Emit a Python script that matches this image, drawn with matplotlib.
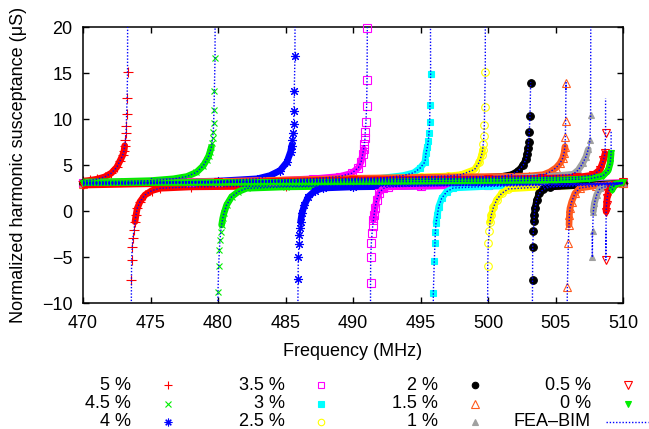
import numpy as np
import matplotlib
matplotlib.use('Agg')
import matplotlib.pyplot as plt
from matplotlib.lines import Line2D

plt.rcParams['font.family'] = ['Liberation Sans', 'DejaVu Sans']

nan = float('nan')

# 各曲线数据 (频率 MHz, 归一化谐波电纳 uS)，nan 分隔谐振点两侧
f_5 = [470.0, 470.5, 471.0, 471.6, 472.1, 472.5, 472.74, 472.94, 473.04, 473.09, 473.14, 473.19, 473.21, 473.23, 473.27, 473.30, nan,
       473.59, 473.60, 473.65, 473.70, 473.78, 473.85, 473.93, 474.02, 474.22, 474.59, 475.09, 475.70, 478.0, 485.0, 495.0, 505.0, 510.0]
b_5 = [3.25, 3.33, 3.45, 3.70, 4.12, 4.75, 5.45, 6.05, 6.55, 7.10, 7.70, 8.44, 9.27, 10.50, 12.32, 15.14, nan,
       -7.50, -5.33, -3.88, -2.90, -2.07, -1.16, -0.43, 0.29, 1.00, 1.74, 2.21, 2.47, 2.62, 2.72, 2.82, 2.92, 3.05]

f_45 = [470.0, 473.0, 475.0, 476.7, 477.7, 478.4, 478.9, 479.16, 479.31, 479.41, 479.51, 479.56, 479.60, 479.65, 479.68, 479.70, 479.73, 479.78, nan,
        480.00, 480.05, 480.10, 480.15, 480.20, 480.27, 480.35, 480.44, 480.64, 481.01, 481.50, 482.12, 485.0, 492.0, 500.0, 510.0]
b_45 = [3.15, 3.22, 3.30, 3.50, 3.75, 4.20, 4.90, 5.55, 5.98, 6.45, 6.96, 7.42, 7.97, 8.62, 9.53, 10.98, 13.04, 16.60, nan,
        -8.77, -6.00, -4.24, -3.15, -2.25, -1.52, -0.80, -0.25, 0.65, 1.55, 2.10, 2.47, 2.62, 2.75, 2.85, 3.02]

f_4 = [470.0, 475.0, 480.0, 482.9, 483.85, 484.6, 485.1, 485.38, 485.46, 485.51, 485.56, 485.60, 485.63, 485.65, 485.70, nan,
       485.93, 485.95, 486.00, 486.02, 486.07, 486.12, 486.22, 486.40, 486.69, 487.19, 487.80, 490.0, 497.0, 504.0, 510.0]
b_4 = [3.05, 3.12, 3.25, 3.50, 3.85, 4.40, 5.30, 6.45, 7.10, 7.72, 8.51, 9.46, 10.87, 13.04, 16.85, nan,
       -7.43, -5.04, -3.62, -2.61, -1.88, -1.16, -0.25, 0.65, 1.55, 2.21, 2.50, 2.62, 2.75, 2.85, 3.00]

f_35 = [470.0, 478.0, 484.0, 487.0, 489.0, 489.9, 490.4, 490.6, 490.72, 490.79, 490.84, 490.89, 490.91, 490.96, 491.01, 491.04, 491.06, nan,
        491.30, 491.31, 491.36, 491.41, 491.46, 491.51, 491.56, 491.63, 491.75, 491.95, 492.25, 492.62, 495.0, 500.0, 505.0, 510.0]
b_35 = [3.05, 3.15, 3.30, 3.50, 3.75, 4.10, 4.70, 5.35, 6.20, 6.74, 7.28, 7.90, 8.62, 9.71, 11.41, 14.24, 19.86, nan,
        -7.86, -5.04, -3.44, -2.43, -1.63, -0.98, -0.43, 0.29, 1.20, 2.00, 2.45, 2.62, 2.72, 2.80, 2.88, 3.08]

f_3 = [470.0, 480.0, 488.0, 492.0, 493.7, 494.5, 494.96, 495.33, 495.41, 495.51, 495.58, 495.63, 495.68, 495.70, 495.75, nan,
       495.95, 496.02, 496.07, 496.10, 496.15, 496.25, 496.35, 496.57, 496.94, 497.43, 500.0, 505.0, 510.0]
b_3 = [3.02, 3.15, 3.30, 3.55, 3.85, 4.15, 4.65, 5.33, 6.30, 6.99, 7.64, 8.51, 9.64, 11.52, 14.89, nan,
       -8.95, -5.43, -3.51, -2.25, -1.27, -0.43, 0.47, 1.38, 2.10, 2.50, 2.68, 2.82, 3.00]

f_25 = [470.0, 480.0, 490.0, 495.0, 497.0, 498.0, 499.0, 499.35, 499.53, 499.60, 499.65, 499.70, 499.73, 499.75, 499.80, nan,
        499.98, 500.02, 500.10, 500.15, 500.25, 500.40, 500.64, 501.01, 501.51, 504.0, 507.0, 510.0]
b_25 = [3.02, 3.15, 3.40, 3.70, 3.80, 3.95, 4.50, 5.30, 6.10, 6.63, 7.28, 8.19, 9.35, 11.30, 15.14, nan,
        -5.94, -3.51, -2.17, -1.16, -0.43, 0.40, 1.20, 1.92, 2.40, 2.62, 2.78, 3.00]

f_2 = [470.0, 480.0, 490.0, 496.0, 499.0, 501.0, 501.75, 502.24, 502.61, 502.81, 502.91, 502.96, 503.01, 503.06, 503.11, 503.16, nan,
       503.30, 503.31, 503.36, 503.41, 503.43, 503.48, 503.61, 503.80, 504.10, 504.59, 507.0, 510.0]
b_2 = [3.00, 3.10, 3.30, 3.45, 3.60, 3.75, 3.95, 4.35, 5.00, 5.62, 6.20, 6.80, 7.53, 8.62, 10.33, 13.95, nan,
       -7.50, -3.90, -2.20, -1.12, -0.43, 0.29, 1.20, 1.92, 2.36, 2.62, 2.80, 3.02]

f_15 = [470.0, 480.0, 490.0, 497.0, 501.0, 503.0, 504.1, 504.59, 505.04, 505.33, 505.53, 505.63, 505.70, 505.73, 505.75, 505.78, nan,
        505.88, 505.95, 506.00, 506.03, 506.07, 506.20, 506.44, 506.81, 508.0, 510.0]
b_15 = [2.98, 3.20, 3.55, 3.70, 3.75, 3.80, 3.95, 4.25, 4.70, 5.18, 5.73, 6.27, 6.99, 8.00, 9.75, 13.95, nan,
        -8.22, -3.51, -1.52, -0.43, 0.29, 1.00, 1.92, 2.50, 2.75, 3.00]

f_1 = [470.0, 480.0, 490.0, 498.0, 502.0, 504.5, 506.32, 506.69, 507.01, 507.26, 507.43, 507.56, 507.60, nan,
       507.73, 507.75, 507.80, 507.88, 508.05, 508.30, 509.0, 510.0]
b_1 = [2.95, 3.10, 3.35, 3.50, 3.60, 3.75, 4.00, 4.46, 5.18, 5.90, 6.70, 7.72, 10.43, nan,
       -5.04, -2.17, -0.07, 0.84, 1.74, 2.47, 2.75, 3.00]

f_05 = [470.0, 480.0, 490.0, 500.0, 504.0, 506.5, 507.8, 508.3, 508.55, 508.67, 508.71, nan,
        508.73, 508.75, 508.78, 508.82, 508.90, 509.05, 509.4, 510.0]
b_05 = [2.82, 3.10, 3.40, 3.50, 3.55, 3.65, 3.90, 4.50, 5.50, 6.27, 8.44, nan,
        -5.33, -0.07, 0.65, 1.38, 2.00, 2.50, 2.85, 3.10]

f_0 = [470.0, 480.0, 490.0, 500.0, 505.0, 507.5, 508.5, 508.9, 509.05, 509.12, nan,
       509.20, 509.25, 509.35, 509.50, 510.0]
b_0 = [3.08, 3.10, 3.15, 3.25, 3.35, 3.50, 3.80, 4.40, 5.18, 6.27, nan,
       2.30, 2.55, 2.75, 2.95, 3.10]

# FEA-BIM 曲线在谐振点处的端点
fea_top_f = [473.31, 479.79, 485.71, 491.06, 495.73, 499.80, 503.16, 505.77, 507.62, 508.71, 509.12]
fea_top_b = [25, 25, 25, 25, 25, 25, 14.0, 13.1, 25, 12.25, 8.8]
fea_bot_f = [473.56, 479.96, 485.90, 491.29, 495.94, 499.97, 503.27, 505.83, 507.72, 508.74, 509.19]
fea_bot_b = [-15, -15, -15, -15, -15, -15, -15, -15, -2.4, -2.1, 2.3]

labels = ['5 %', '4.5 %', '4 %', '3.5 %', '3 %', '2.5 %', '2 %', '1.5 %', '1 %', '0.5 %', '0 %']
freqs = [f_5, f_45, f_4, f_35, f_3, f_25, f_2, f_15, f_1, f_05, f_0]
values = [b_5, b_45, b_4, b_35, b_3, b_25, b_2, b_15, b_1, b_05, b_0]

orange = '#ff5a1e'
styles = [
    dict(marker='+', color='red', ms=6.5, mfc='red'),
    dict(marker='x', color='#00ee00', ms=5, mfc='#00ee00'),
    dict(marker=(8, 2, 0), color='blue', ms=6.5, mfc='blue'),
    dict(marker='s', color='magenta', ms=5.5, mfc='none'),
    dict(marker='s', color='cyan', ms=5, mfc='cyan'),
    dict(marker='o', color='yellow', ms=5.5, mfc='none'),
    dict(marker='o', color='black', ms=5.5, mfc='black'),
    dict(marker='^', color=orange, ms=6, mfc='none'),
    dict(marker='^', color='#a0a0a0', ms=5, mfc='#a0a0a0'),
    dict(marker='v', color='red', ms=6, mfc='none'),
    dict(marker='v', color='#00ee00', ms=4.5, mfc='#00ee00'),
]

W, H = 649, 429
fig = plt.figure(figsize=(W / 100, H / 100), dpi=100)
ax = fig.add_axes([83 / W, 1 - 303 / H, 540 / W, 276 / H])

# 绘制各组曲线
for i, (f, b, st) in enumerate(zip(freqs, values, styles)):
    f = np.array(f)
    b = np.array(b)
    band = np.where((b >= -1.6) & (b <= 7.2), b, nan)
    ax.plot(f, band, '-', color=st['color'], lw=4.8, solid_capstyle='round', zorder=2 + i)
    ax.plot(f, b, ls='none', marker=st['marker'], ms=st['ms'], color=st['color'],
            mfc=st['mfc'], mec=st['color'], mew=0.8, clip_on=False, zorder=2 + i)

# FEA-BIM 虚线
for i, (f, b) in enumerate(zip(freqs, values)):
    k = [np.isnan(v) for v in f].index(True)
    fx = f[:k] + [fea_top_f[i], nan, fea_bot_f[i]] + f[k + 1:]
    by = b[:k] + [fea_top_b[i], nan, fea_bot_b[i]] + b[k + 1:]
    ax.plot(fx, by, color='blue', lw=1.0, ls=(0, (1, 1.3)), zorder=20)

ax.set_xlim(470, 510)
ax.set_ylim(-10, 20)
ax.set_xticks(range(470, 511, 5))
ax.set_yticks(range(-10, 21, 5))
ax.tick_params(direction='in', length=4.5, width=1, top=True, right=True, labelsize=13)
ax.tick_params(axis='y', pad=7.5)
ax.tick_params(axis='x', pad=9)
for s in ax.spines.values():
    s.set_linewidth(1.1)

fig.text(353 / W, 1 - 351 / H, 'Frequency (MHz)', ha='center', va='center', fontsize=13)
fig.text(18.5 / W, 1 - 165 / H, 'Normalized harmonic susceptance (μS)', ha='center', va='center',
         rotation=90, fontsize=13)

# 图例
col_right = [131, 285, 438, 591]
col_mark = [168, 321, 475, 628]
row_y = [385, 403.5, 422]
for i, (lab, st) in enumerate(zip(labels, styles)):
    c, r = divmod(i, 3)
    fig.text(col_right[c] / W, 1 - row_y[r] / H, lab, ha='right', va='center', fontsize=13)
    fig.add_artist(Line2D([col_mark[c] / W], [1 - row_y[r] / H], transform=fig.transFigure,
                          ls='none', marker=st['marker'], ms=st['ms'] * 0.85, color=st['color'],
                          mfc=st['mfc'], mec=st['color'], mew=0.8))
fig.text(col_right[3] / W, 1 - row_y[2] / H, 'FEA–BIM', ha='right', va='center', fontsize=13)
fig.add_artist(Line2D([606 / W, 648 / W], [1 - row_y[2] / H] * 2, transform=fig.transFigure,
                      color='blue', lw=1.0, ls=(0, (1, 1.3))))

fig.savefig('out.png', dpi=100)
